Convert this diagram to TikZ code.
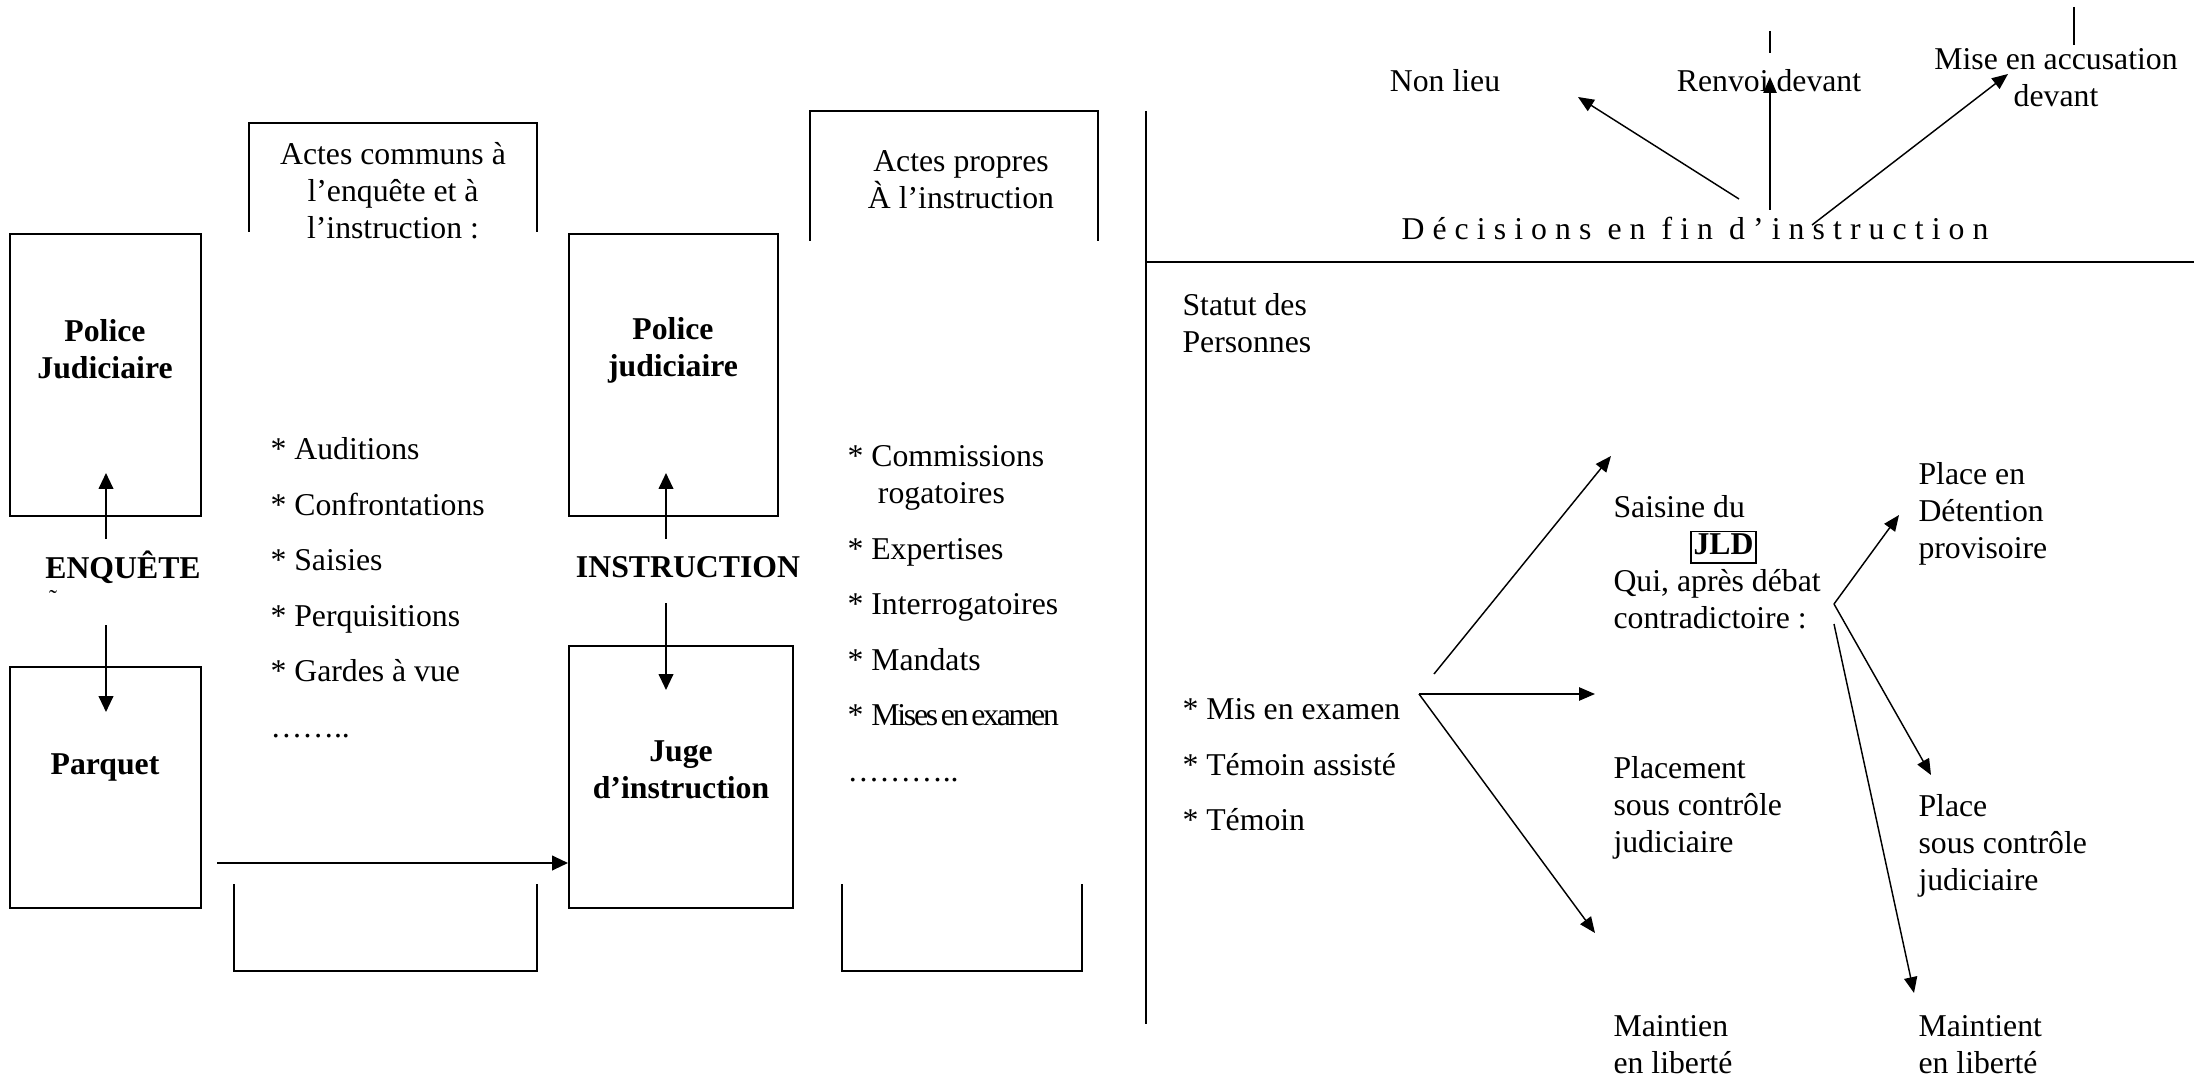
\documentclass[tikz,border=0pt]{standalone}
\usepackage{fontspec}
\setmainfont{Liberation Serif}
\newfontfamily\spacedfont[LetterSpace=25.5]{Liberation Serif}
\newfontfamily\tightfont[LetterSpace=-7]{Liberation Serif}
\usetikzlibrary{arrows.meta,fit}
\begin{document}
\begin{tikzpicture}[x=0.378pt,y=-0.378pt,
  every node/.style={font=\fontsize{12}{14}\selectfont, inner sep=0pt},
  box/.style={draw, line width=0.75pt, inner sep=0pt},
  arr/.style={line width=0.75pt, -{Triangle[length=6pt,width=5.5pt]}},
  thinarr/.style={line width=0.55pt, -{Triangle[length=6pt,width=5pt]}},
  plain/.style={line width=0.75pt},
  thinline/.style={line width=0.55pt},
  boldtxt/.style={font=\fontsize{12}{14}\selectfont\bfseries, align=center},
  txt/.style={align=left, anchor=north west},
]
\useasboundingbox (0,0) rectangle (2194,1077);

% ---------- left part: enquete ----------
\node[box, fit={(10,234) (201,516)}] (pjA) {};
\node[box, fit={(10,667) (201,908)}] (parq) {};
\node[boldtxt] (pjAt) at (105,349) {Police\\Judiciaire};
\node[boldtxt] (enq) at (123,567) {ENQUÊTE};
\node (tilde) at (53,598) {\fontsize{9}{10}\selectfont ˜};
\node[boldtxt] (parqt) at (105,767) {Parquet};

\coordinate (e1s) at (106,539); \coordinate (e1e) at (106,473);
\coordinate (e2s) at (106,625); \coordinate (e2e) at (106,712);
\draw[arr] (e1s) -- (e1e);
\draw[arr] (e2s) -- (e2e);

% ---------- actes communs ----------
\draw[plain] (249,232) -- (249,123) -- (537,123) -- (537,232);
\node[align=center] (comm) at (393,191) {Actes communs à\\l’enquête et à\\l’instruction :};
\draw[plain] (234,884) -- (234,971) -- (537,971) -- (537,884);
\node[txt] (listA) at (270,437) {* Auditions\\[7pt]* Confrontations\\[7pt]* Saisies\\[7pt]* Perquisitions\\[7pt]* Gardes à vue\\[7pt]……..};

% ---------- instruction ----------
\node[box, fit={(569,234) (778,516)}] (pjB) {};
\node[box, fit={(569,646) (793,908)}] (juge) {};
\node[boldtxt] (pjBt) at (673,350) {Police\\judiciaire};
\node[boldtxt] (instr) at (688,567) {INSTRUCTION};
\node[boldtxt] (juget) at (681,770) {Juge\\d’instruction};

\coordinate (i1s) at (666,539); \coordinate (i1e) at (666,473);
\coordinate (i2s) at (666,603); \coordinate (i2e) at (666,690);
\draw[arr] (i1s) -- (i1e);
\draw[arr] (i2s) -- (i2e);

\coordinate (h1s) at (217,863);
\draw[arr] (h1s) -- (h1s -| juge.west);

% ---------- actes propres ----------
\draw[plain] (810,241) -- (810,111) -- (1098,111) -- (1098,241);
\node[align=center] (prop) at (961,180) {Actes propres\\À l’instruction};
\draw[plain] (842,884) -- (842,971) -- (1082,971) -- (1082,884);
\node[txt] (listB) at (847,445) {* Commissions\\\hspace*{11.5pt}rogatoires\\[7pt]* Expertises\\[7pt]* Interrogatoires\\[7pt]* Mandats\\[7pt]* {\tightfont Mises\hspace{1pt}en\hspace{1pt}examen}\\[7pt]………..};

% ---------- right part ----------
\draw[plain] (1146,111) -- (1146,1024);
\draw[line width=1.1pt] (1146,262) -- (2194,262);

\node (dec) at (1695,228) {\spacedfont Décisions en fin d’instruction};
\node (nonlieu) at (1445,81) {Non lieu};
\node (renvoi) at (1769,81) {Renvoi devant};
\node[align=center] (mise) at (2056,78) {Mise en accusation\\devant};

\coordinate (d1s) at (1739,199); \coordinate (d1e) at (1578,97);
\coordinate (d2s) at (1770,210); \coordinate (d2e) at (1770,77);
\coordinate (d3s) at (1812,225); \coordinate (d3e) at (2008,74);
\draw[thinarr] (d1s) -- (d1e);
\draw[thinarr] (d2s) -- (d2e);
\draw[thinarr] (d3s) -- (d3e);
\coordinate (r1a) at (1770,31); \coordinate (r1b) at (1770,53);
\coordinate (r2a) at (2074,7); \coordinate (r2b) at (2074,45);
\draw[thinline] (r1a) -- (r1b);
\draw[thinline] (r2a) -- (r2b);

\node[txt] (statut) at (1182,293) {Statut des\\Personnes};
\node[txt] (mis) at (1182,698) {* Mis en examen\\[7pt]* Témoin assisté\\[7pt]* Témoin};

\node[txt] (saisine) at (1613,495) {Saisine du\\\hspace*{29pt}{\setlength{\fboxsep}{0.5pt}\setlength{\fboxrule}{0.75pt}\fbox{\rule[-2.3pt]{0pt}{10pt}\textbf{JLD}}}\\Qui, après débat\\contradictoire :};
\node[txt] (placement) at (1613,756) {Placement\\sous contrôle\\judiciaire};
\node[txt] (maintien) at (1613,1015) {Maintien\\en liberté};
\node[txt] (detention) at (1918,462) {Place en\\Détention\\provisoire};
\node[txt] (placecj) at (1918,794) {Place\\sous contrôle\\judiciaire};
\node[txt] (maintient) at (1918,1015) {Maintient\\en liberté};

\coordinate (o1) at (1419,694);
\coordinate (t1) at (1595,694); \coordinate (t2) at (1595,933);
\coordinate (u1s) at (1434,674); \coordinate (u1e) at (1611,456);
\draw[thinarr] (o1) -- (t1);
\draw[thinarr] (o1) -- (t2);
\draw[thinarr] (u1s) -- (u1e);

\coordinate (o2) at (1834,604);
\coordinate (t3) at (1899,515); \coordinate (t4) at (1931,775);
\coordinate (o3) at (1834,624); \coordinate (t5) at (1914,993);
\draw[thinarr] (o2) -- (t3);
\draw[thinarr] (o2) -- (t4);
\draw[thinarr] (o3) -- (t5);
\end{tikzpicture}
\end{document}
